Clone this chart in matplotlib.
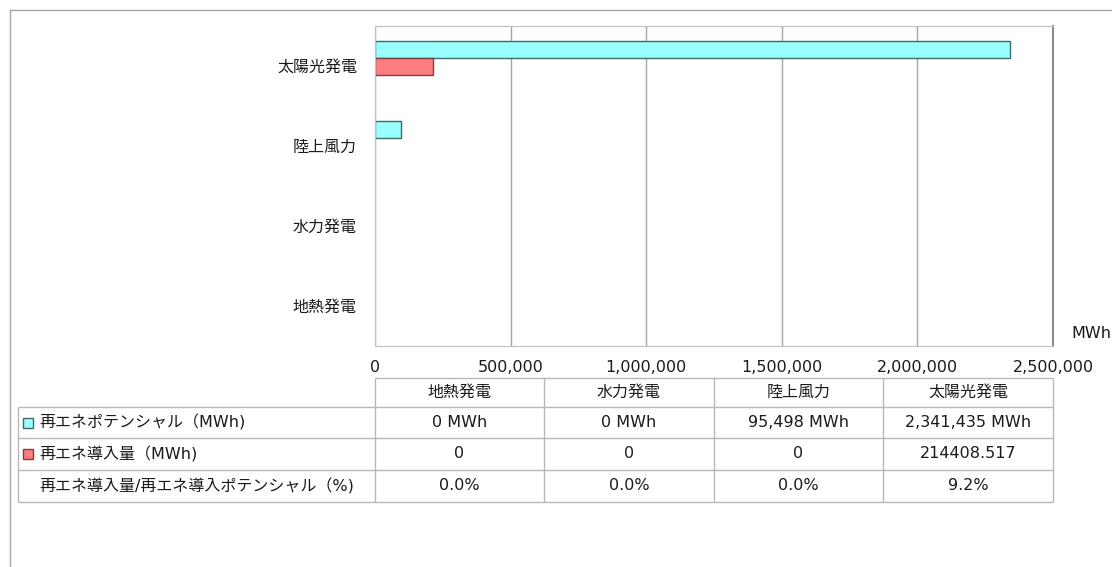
import matplotlib
matplotlib.use('Agg')
import matplotlib.pyplot as plt
from matplotlib.lines import Line2D
from matplotlib.patches import Rectangle
import numpy as np

plt.rcParams['font.family'] = ['DejaVu Sans', 'Noto Sans CJK JP']
plt.rcParams['font.size'] = 11.5
plt.rcParams['text.color'] = '#1A1A1A'
plt.rcParams['xtick.color'] = '#1A1A1A'
plt.rcParams['ytick.color'] = '#1A1A1A'

# data (bottom to top on the chart, left to right in the table)
categories = ['地熱発電', '水力発電', '陸上風力', '太陽光発電']
potential = [0, 0, 95498, 2341435]
introduced = [0, 0, 0, 214408.517]
ratio_pct = [0.0, 0.0, 0.0, 9.2]
xticks = [0, 500000, 1000000, 1500000, 2000000, 2500000]

row_labels = ['再エネポテンシャル（MWh)', '再エネ導入量（MWh)', '再エネ導入量/再エネ導入ポテンシャル（%)']
cell_text = [
    [f'{v:,.0f} MWh' for v in potential],
    ['0' if v == 0 else f'{v}' for v in introduced],
    [f'{v:.1f}%' for v in ratio_pct],
]

cyan = '#99FFFF'
cyan_edge = '#3D6B6B'
red = '#FF7C80'
red_edge = '#7A4040'
grid_c = '#A6A6A6'

W, H = 1112, 567
fig = plt.figure(figsize=(W / 100, H / 100), dpi=100)

# bar chart area (pixels: x 375..1053, y 26..346)
ax = fig.add_axes([375 / W, 1 - 346 / H, 678 / W, 320 / H])
y = np.arange(len(categories))
bh = 0.2125
# zero-length bars get no outline, as in the original
ax.barh(y + bh, potential, height=bh, color=cyan, edgecolor=cyan_edge,
        linewidth=[1 if v else 0 for v in potential])
ax.barh(y, introduced, height=bh, color=red, edgecolor=red_edge,
        linewidth=[1 if v else 0 for v in introduced])

ax.set_xlim(0, 2500000)
ax.set_ylim(-0.5, len(categories) - 0.5)
ax.set_xticks(xticks)
ax.set_xticklabels([f'{t:,}' for t in xticks])
ax.set_yticks(y)
ax.set_yticklabels(categories)
ax.tick_params(axis='x', length=0, pad=10)
ax.tick_params(axis='y', length=0, pad=13)
ax.set_axisbelow(True)
ax.grid(axis='x', color=grid_c, linewidth=1)
for s in ['top', 'left', 'bottom']:
    ax.spines[s].set_color('#BFBFBF')
ax.spines['right'].set_color('#8C8C8C')
ax.spines['right'].set_linewidth(1.5)
ax.text(1.027, 0.04, 'MWh', transform=ax.transAxes, ha='left', va='center')

# outer frame (top and left only)
fig.add_artist(Line2D([10 / W, 1], [1 - 10 / H, 1 - 10 / H], color='#A6A6A6', lw=1))
fig.add_artist(Line2D([10 / W, 10 / W], [1 - 10 / H, 0], color='#A6A6A6', lw=1))

# data table in pixel coordinates
tx = fig.add_axes([0, 0, 1, 1])
tx.set_xlim(0, W)
tx.set_ylim(H, 0)
tx.axis('off')

col_x = [375, 544, 714, 883, 1053]
row_y = [378, 407, 438, 470, 502]
left = 18
line_c = '#B8B8B8'

# header row
tx.hlines(row_y[0], col_x[0], col_x[-1], color=line_c, lw=1)
for i, cat in enumerate(categories):
    tx.text((col_x[i] + col_x[i + 1]) / 2, (row_y[0] + row_y[1]) / 2, cat,
            ha='center', va='center')
for yy in row_y[1:]:
    tx.hlines(yy, left, col_x[-1], color=line_c, lw=1)
tx.vlines(left, row_y[1], row_y[-1], color=line_c, lw=1)
for xx in col_x:
    tx.vlines(xx, row_y[0], row_y[-1], color=line_c, lw=1)

swatches = [(cyan, cyan_edge), (red, red_edge), None]
for r in range(3):
    yc = (row_y[r + 1] + row_y[r + 2]) / 2
    if swatches[r] is not None:
        fc, ec = swatches[r]
        tx.add_patch(Rectangle((23, yc - 5), 10, 10, facecolor=fc, edgecolor=ec, lw=1))
    tx.text(39, yc, row_labels[r], ha='left', va='center')
    for i in range(len(categories)):
        tx.text((col_x[i] + col_x[i + 1]) / 2, yc, cell_text[r][i], ha='center', va='center')

fig.savefig('out.png', dpi=100)
